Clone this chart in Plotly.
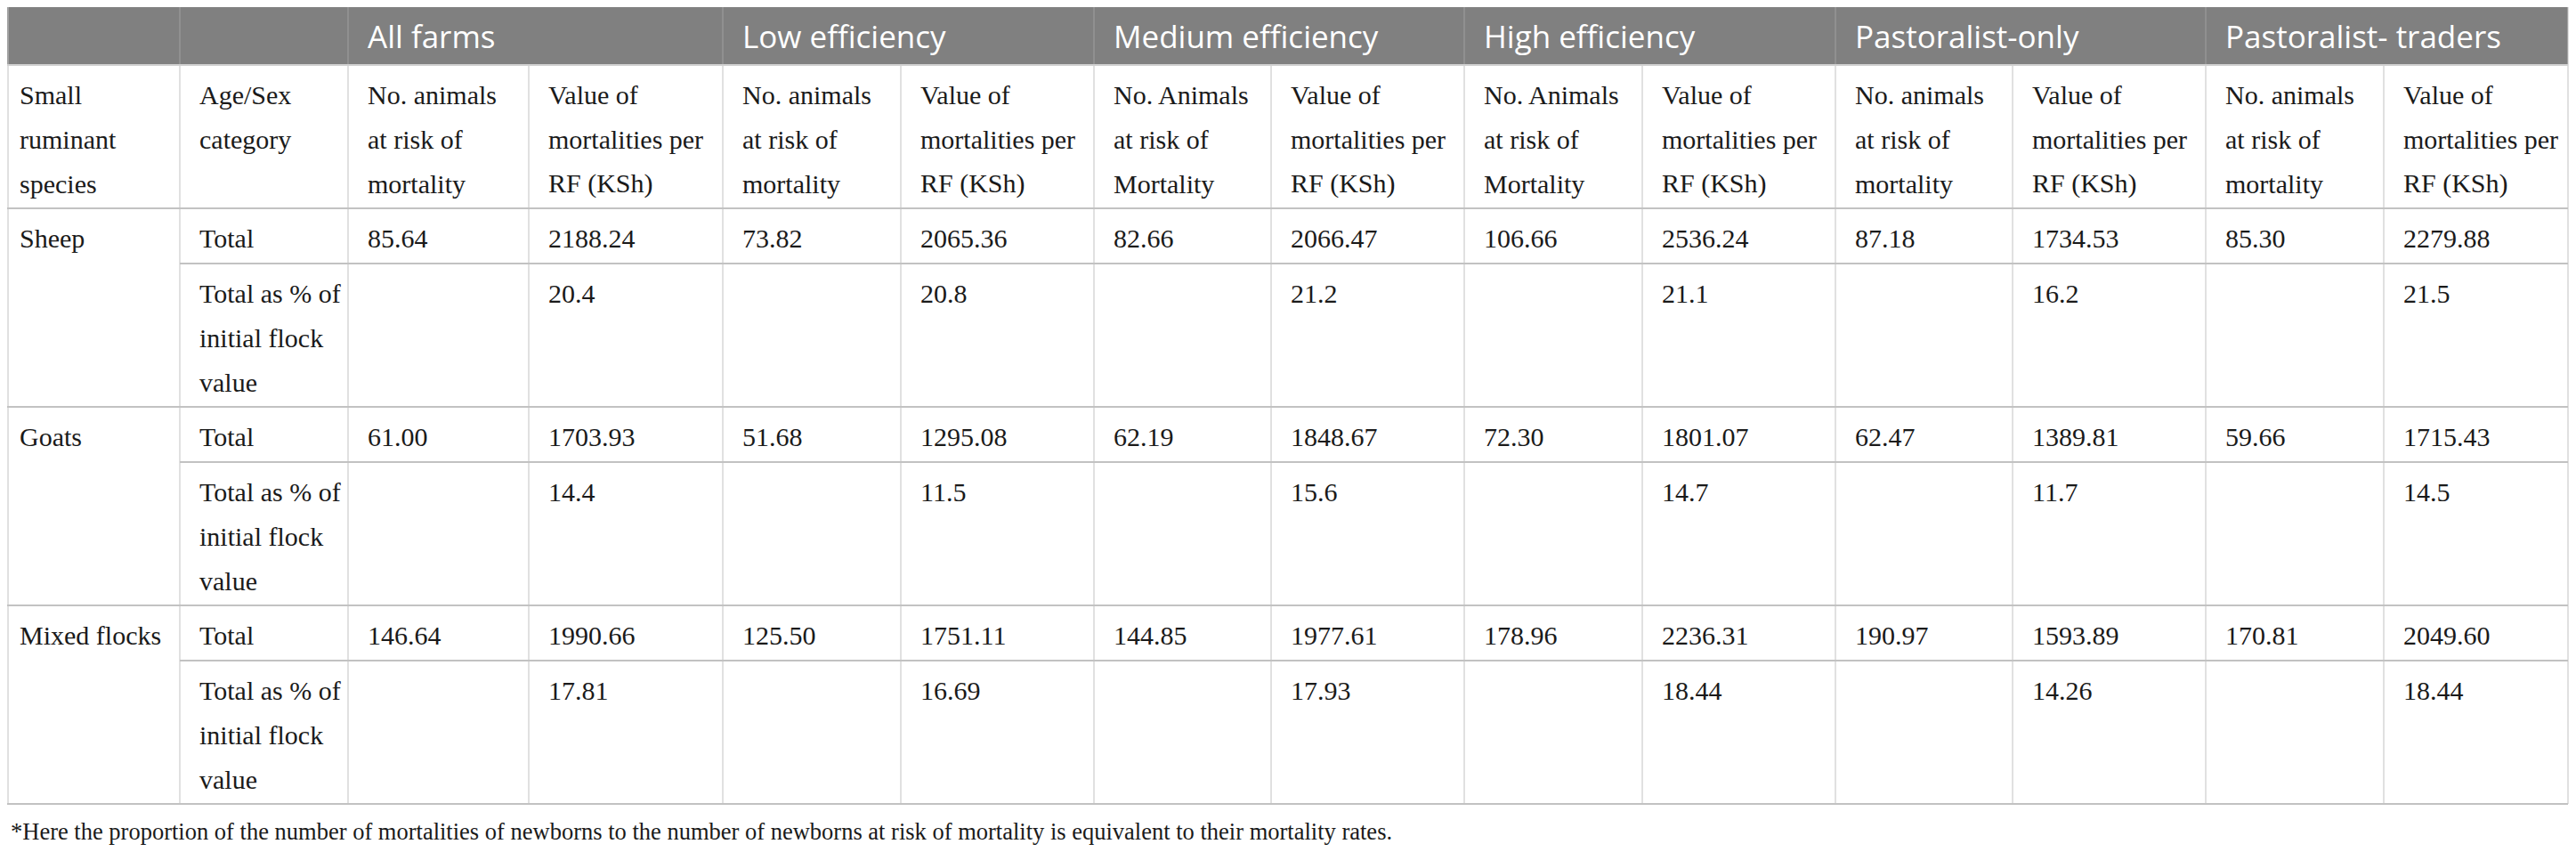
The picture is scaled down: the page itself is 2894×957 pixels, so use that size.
import plotly.graph_objects as go

# ---- table content ----
groups = ["All farms", "Low efficiency", "Medium efficiency", "High efficiency",
          "Pastoralist-only", "Pastoralist- traders"]
count_headers = [
    ["No. animals", "at risk of", "mortality"],
    ["No. animals", "at risk of", "mortality"],
    ["No. Animals", "at risk of", "Mortality"],
    ["No. Animals", "at risk of", "Mortality"],
    ["No. animals", "at risk of", "mortality"],
    ["No. animals", "at risk of", "mortality"],
]
value_header = ["Value of", "mortalities per", "RF (KSh)"]
first_headers = [["Small", "ruminant", "species"], ["Age/Sex", "category"]]

species = ["Sheep", "Goats", "Mixed flocks"]
row_labels = [["Total"], ["Total as % of", "initial flock", "value"]]

animals_at_risk = [
    [85.64, 73.82, 82.66, 106.66, 87.18, 85.30],
    [61.00, 51.68, 62.19, 72.30, 62.47, 59.66],
    [146.64, 125.50, 144.85, 178.96, 190.97, 170.81],
]
mortality_value = [
    [2188.24, 2065.36, 2066.47, 2536.24, 1734.53, 2279.88],
    [1703.93, 1295.08, 1848.67, 1801.07, 1389.81, 1715.43],
    [1990.66, 1751.11, 1977.61, 2236.31, 1593.89, 2049.60],
]
pct_of_flock = [
    ["20.4", "20.8", "21.2", "21.1", "16.2", "21.5"],
    ["14.4", "11.5", "15.6", "14.7", "11.7", "14.5"],
    ["17.81", "16.69", "17.93", "18.44", "14.26", "18.44"],
]
footnote = ("*Here the proportion of the number of mortalities of newborns to the number of "
            "newborns at risk of mortality is equivalent to their mortality rates.")

# ---- layout constants (pixels) ----
W, H = 2894, 957
OFF = 8  # page body margin
col_edges = [0, 202, 391, 594, 812, 1012, 1229, 1428, 1645, 1845, 2062, 2261, 2478, 2678, 2885]
top, head_bottom, sub_bottom = 4, 73, 234
total_h, pct_h = 62, 161
pad_x, first_line, line_gap = 20, 33, 50

HEAD_BG = "#808080"
GRID = "#c2c2c2"
TEXT = "#1a1a1a"
SERIF = "Liberation Serif"
SANS = "Open Sans"
BODY_SIZE = 30

# row edges for body
row_tops = []
y = sub_bottom
for s in species:
    row_tops.append((y, y + total_h, y + total_h + pct_h))
    y += total_h + pct_h
table_bottom = y
left = OFF + 1  # leftmost drawable x

fig = go.Figure()
shapes = []
annotations = []


def add_lines(x0, y0, lines, size=BODY_SIZE, color=TEXT, family=SERIF):
    for i, line in enumerate(lines):
        annotations.append(dict(
            x=x0 + pad_x, y=y0 + first_line + i * line_gap, text=line,
            xref="x", yref="y", xanchor="left", yanchor="middle", showarrow=False,
            font=dict(family=family, size=size, color=color)))


def hline(x0, x1, yv, width=2, color=GRID):
    shapes.append(dict(type="line", xref="x", yref="y", x0=x0, x1=x1, y0=yv, y1=yv,
                       line=dict(color=color, width=width)))


def vline(xv, y0, y1, width=1, color=GRID):
    shapes.append(dict(type="line", xref="x", yref="y", x0=xv, x1=xv, y0=y0, y1=y1,
                       line=dict(color=color, width=width)))


# header band
shapes.append(dict(type="rect", xref="x", yref="y", x0=col_edges[0], x1=col_edges[-1],
                   y0=top, y1=head_bottom, fillcolor=HEAD_BG, line=dict(width=0), layer="below"))
for k in [1, 2] + [2 + 2 * g for g in range(1, len(groups))]:
    vline(col_edges[k], top, head_bottom, color="#a0a0a0")
for g, name in enumerate(groups):
    annotations.append(dict(
        x=col_edges[2 + 2 * g] + pad_x, y=(top + head_bottom) / 2 + 2, text=name,
        xref="x", yref="y", xanchor="left", yanchor="middle", showarrow=False,
        font=dict(family=SANS, size=35, color="white")))

# sub header
add_lines(col_edges[0], head_bottom, first_headers[0])
add_lines(col_edges[1], head_bottom, first_headers[1])
for g in range(len(groups)):
    add_lines(col_edges[2 + 2 * g], head_bottom, count_headers[g])
    add_lines(col_edges[3 + 2 * g], head_bottom, value_header)

# body
for s, name in enumerate(species):
    t0, t1, t2 = row_tops[s]
    add_lines(col_edges[0], t0, [name])
    add_lines(col_edges[1], t0, row_labels[0])
    add_lines(col_edges[1], t1, row_labels[1])
    for g in range(len(groups)):
        add_lines(col_edges[2 + 2 * g], t0, [f"{animals_at_risk[s][g]:.2f}"])
        add_lines(col_edges[3 + 2 * g], t0, [f"{mortality_value[s][g]:.2f}"])
        add_lines(col_edges[3 + 2 * g], t1, [pct_of_flock[s][g]])
    hline(col_edges[1], col_edges[-1], t1)

# grid
for xv in col_edges[1:]:
    vline(xv, head_bottom, table_bottom)
vline(left, head_bottom, table_bottom)
vline(left, top, head_bottom)
vline(col_edges[-1], top, head_bottom)
hline(col_edges[0], col_edges[-1], top)
hline(col_edges[0], col_edges[-1], head_bottom, color="#d0d0d0")
hline(col_edges[0], col_edges[-1], sub_bottom)
for t0, t1, t2 in row_tops:
    hline(col_edges[0], col_edges[-1], t2)

# footnote
annotations.append(dict(
    x=left + 1, y=table_bottom + 31, text=footnote, xref="x", yref="y",
    xanchor="left", yanchor="middle", showarrow=False,
    font=dict(family=SERIF, size=26.5, color=TEXT)))

fig.update_layout(
    width=W - 2 * OFF, height=H - 2 * OFF,
    margin=dict(l=0, r=0, t=0, b=0),
    paper_bgcolor="white", plot_bgcolor="white",
    xaxis=dict(range=[OFF, W - OFF], visible=False, fixedrange=True),
    yaxis=dict(range=[H - OFF, OFF], visible=False, fixedrange=True),
    shapes=shapes, annotations=annotations,
    showlegend=False,
)

fig.write_html("out.html")
